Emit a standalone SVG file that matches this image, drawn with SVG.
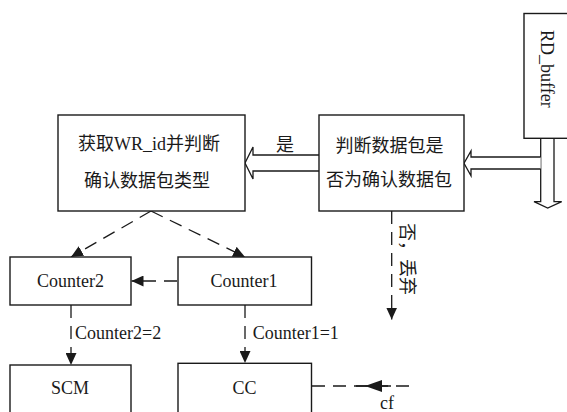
<svg xmlns="http://www.w3.org/2000/svg" width="567" height="412" viewBox="0 0 567 412">
<style>
.box{fill:#fff;stroke:#1a1a1a;stroke-width:1.4}
.t{font-family:"Liberation Serif","Noto Sans CJK SC",serif;font-size:18px;fill:#1a1a1a}
.c{text-anchor:middle}
.dash{fill:none;stroke:#1a1a1a;stroke-width:1.3;stroke-dasharray:13 8}
.solid{fill:none;stroke:#1a1a1a;stroke-width:1.3}
.hollow{fill:#fff;stroke:#1a1a1a;stroke-width:1.3;stroke-linejoin:miter}
</style>
<defs>
<marker id="ah" viewBox="0 0 12 11" refX="12" refY="5.5" markerWidth="12" markerHeight="11" markerUnits="userSpaceOnUse" orient="auto">
<path d="M0,0 L12,5.5 L0,11 z" fill="#1a1a1a"/>
</marker>
</defs>
<rect width="567" height="412" fill="#fff"/>

<g id="connectors">
<path class="hollow" d="M540.7,138 V201.7 H534 L547.7,208 L561.7,201.7 H554 V138"/>
<path class="hollow" d="M540.7,157 H471 V151 L464,163.3 L471,175.7 V169 H540.7"/>
<path class="hollow" d="M319,155 H253 V147 L245,163 L253,179 V171 H319"/>
<line class="dash" x1="151" y1="211" x2="71" y2="257" marker-end="url(#ah)"/>
<line class="dash" x1="151" y1="211" x2="245" y2="257" marker-end="url(#ah)"/>
<line class="dash" x1="177" y1="281" x2="131.5" y2="281" marker-end="url(#ah)"/>
<line class="dash" x1="71" y1="305" x2="71" y2="365" marker-end="url(#ah)"/>
<line class="dash" x1="245" y1="305" x2="245" y2="363" marker-end="url(#ah)"/>
<line class="dash" x1="391.7" y1="211" x2="391.7" y2="319.5" marker-end="url(#ah)"/>
<line class="dash" x1="312" y1="386" x2="415" y2="386"/>
<line class="solid" x1="356" y1="386" x2="391" y2="386"/>
<path d="M365,386 L382,380 L382,392 z" fill="#1a1a1a"/>
<text class="t" x="285" y="150.5" text-anchor="middle">是</text>
<text class="t" transform="translate(401,223) rotate(90)">否，丢弃</text>
<text class="t" x="75" y="339.3">Counter2=2</text>
<text class="t" x="252.7" y="339.3">Counter1=1</text>
<text class="t" x="380" y="409">cf</text>
</g>

<g id="rd_buffer">
<rect class="box" x="524" y="13.5" width="60" height="124.8"/>
<text class="t" transform="translate(541,30) rotate(90)">RD_buffer</text>
</g>

<g id="judge">
<rect class="box" x="319" y="115" width="145" height="96"/>
<text class="t c" x="389.5" y="151.5">判断数据包是</text>
<text class="t c" x="389" y="186">否为确认数据包</text>
</g>

<g id="getid">
<rect class="box" x="58" y="115" width="187" height="96"/>
<text class="t c" x="149" y="149.5">获取WR_id并判断</text>
<text class="t c" x="147" y="186.5">确认数据包类型</text>
</g>

<g id="counter2">
<rect class="box" x="10" y="257" width="121" height="48"/>
<text class="t c" x="70.5" y="286.7">Counter2</text>
</g>

<g id="counter1">
<rect class="box" x="178" y="257" width="133.5" height="48"/>
<text class="t c" x="244" y="286.7">Counter1</text>
</g>

<g id="scm">
<rect class="box" x="10" y="365" width="121" height="60"/>
<text class="t c" x="70" y="394">SCM</text>
</g>

<g id="cc">
<rect class="box" x="178" y="363.3" width="133.5" height="60"/>
<text class="t c" x="244.5" y="394">CC</text>
</g>
</svg>
